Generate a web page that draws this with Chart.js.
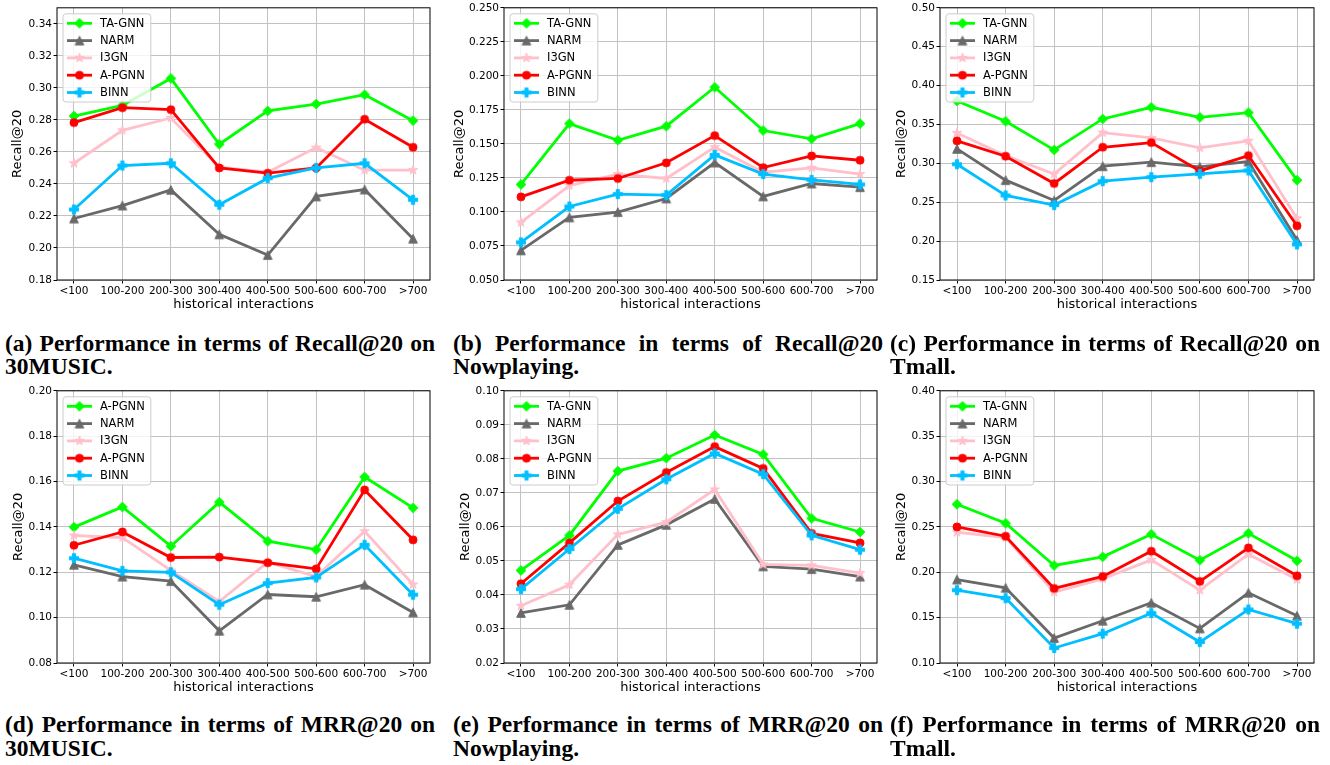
<!DOCTYPE html>
<html><head><meta charset="utf-8">
<script src="https://cdn.jsdelivr.net/npm/chart.js@4/dist/chart.umd.min.js"></script>
<style>
html,body{margin:0;padding:0;background:#fff;}
body{width:1330px;height:765px;position:relative;overflow:hidden;}
canvas.cv{position:absolute;}
.cap{position:absolute;font-family:"Liberation Serif","Times New Roman",serif;font-weight:bold;font-size:23.5px;line-height:24px;color:#000;white-space:nowrap;}
.j{text-align:justify;text-align-last:justify;white-space:normal;}
</style></head><body>
<canvas id="ca" class="cv"></canvas><canvas id="cb" class="cv"></canvas><canvas id="cc" class="cv"></canvas>
<canvas id="cd" class="cv"></canvas><canvas id="ce" class="cv"></canvas><canvas id="cf" class="cv"></canvas>
<div class="cap j" style="left:5px;top:331px;width:430px;">(a) Performance in terms of Recall@20 on</div>
<div class="cap" style="left:5px;top:354px;">30MUSIC.</div>
<div class="cap j" style="left:453px;top:331px;width:430px;">(b) Performance in terms of Recall@20</div>
<div class="cap" style="left:453px;top:354px;">Nowplaying.</div>
<div class="cap j" style="left:890px;top:331px;width:430px;">(c) Performance in terms of Recall@20 on</div>
<div class="cap" style="left:890px;top:354px;">Tmall.</div>
<div class="cap j" style="left:5px;top:712px;width:430px;">(d) Performance in terms of MRR@20 on</div>
<div class="cap" style="left:5px;top:736px;">30MUSIC.</div>
<div class="cap j" style="left:453px;top:712px;width:430px;">(e) Performance in terms of MRR@20 on</div>
<div class="cap" style="left:453px;top:736px;">Nowplaying.</div>
<div class="cap j" style="left:890px;top:712px;width:430px;">(f) Performance in terms of MRR@20 on</div>
<div class="cap" style="left:890px;top:736px;">Tmall.</div>
<script>
// ---------- data ----------
const categories = ['<100','100-200','200-300','300-400','400-500','500-600','600-700','>700'];
const seriesNames = ['TA-GNN','NARM','I3GN','A-PGNN','BINN'];
const seriesNamesD = ['A-PGNN','NARM','I3GN','A-PGNN','BINN'];

// (a) Recall@20, 30MUSIC
const aTA    = [0.2824, 0.2890, 0.3059, 0.2648, 0.2856, 0.2899, 0.2957, 0.2795];
const aNARM  = [0.2184, 0.2265, 0.2363, 0.2085, 0.1956, 0.2322, 0.2365, 0.2058];
const aI3GN  = [0.2529, 0.2735, 0.2812, 0.2505, 0.2473, 0.2627, 0.2486, 0.2486];
const aAPGNN = [0.2783, 0.2876, 0.2864, 0.2500, 0.2467, 0.2500, 0.2804, 0.2629];
const aBINN  = [0.2240, 0.2515, 0.2529, 0.2270, 0.2436, 0.2500, 0.2529, 0.2301];
// (b) Recall@20, Nowplaying
const bTA    = [0.1202, 0.1649, 0.1527, 0.1630, 0.1916, 0.1598, 0.1537, 0.1649];
const bNARM  = [0.0718, 0.0960, 0.0999, 0.1099, 0.1363, 0.1114, 0.1209, 0.1182];
const bI3GN  = [0.0923, 0.1194, 0.1278, 0.1246, 0.1476, 0.1292, 0.1324, 0.1278];
const bAPGNN = [0.1111, 0.1233, 0.1246, 0.1361, 0.1561, 0.1326, 0.1412, 0.1380];
const bBINN  = [0.0776, 0.1040, 0.1131, 0.1124, 0.1419, 0.1278, 0.1236, 0.1202];
// (c) Recall@20, Tmall
const cTA    = [0.3802, 0.3541, 0.3173, 0.3571, 0.3721, 0.3592, 0.3652, 0.2784];
const cNARM  = [0.3186, 0.2784, 0.2523, 0.2963, 0.3015, 0.2955, 0.3023, 0.2013];
const cI3GN  = [0.3391, 0.3100, 0.2861, 0.3395, 0.3327, 0.3199, 0.3289, 0.2292];
const cAPGNN = [0.3289, 0.3092, 0.2741, 0.3207, 0.3267, 0.2903, 0.3100, 0.2197];
const cBINN  = [0.2989, 0.2587, 0.2463, 0.2771, 0.2822, 0.2865, 0.2908, 0.1958];
// (d) MRR@20, 30MUSIC
const dTA    = [0.1399, 0.1488, 0.1315, 0.1509, 0.1337, 0.1300, 0.1620, 0.1484];
const dNARM  = [0.1233, 0.1181, 0.1161, 0.0942, 0.1102, 0.1092, 0.1145, 0.1023];
const dI3GN  = [0.1362, 0.1353, 0.1208, 0.1071, 0.1245, 0.1181, 0.1381, 0.1146];
const dAPGNN = [0.1319, 0.1378, 0.1265, 0.1267, 0.1242, 0.1215, 0.1563, 0.1343];
const dBINN  = [0.1262, 0.1206, 0.1200, 0.1057, 0.1152, 0.1177, 0.1321, 0.1101];
// (e) MRR@20, Nowplaying
const eTA    = [0.0472, 0.0575, 0.0764, 0.0802, 0.0870, 0.0813, 0.0625, 0.0585];
const eNARM  = [0.0347, 0.0371, 0.0547, 0.0606, 0.0682, 0.0484, 0.0476, 0.0454];
const eI3GN  = [0.0368, 0.0430, 0.0578, 0.0614, 0.0710, 0.0490, 0.0487, 0.0464];
const eAPGNN = [0.0433, 0.0553, 0.0676, 0.0760, 0.0836, 0.0772, 0.0581, 0.0553];
const eBINN  = [0.0417, 0.0535, 0.0653, 0.0740, 0.0816, 0.0755, 0.0575, 0.0533];
// (f) MRR@20, Tmall
const fTA    = [0.2749, 0.2540, 0.2075, 0.2170, 0.2419, 0.2133, 0.2430, 0.2126];
const fNARM  = [0.1920, 0.1829, 0.1275, 0.1466, 0.1664, 0.1381, 0.1774, 0.1521];
const fI3GN  = [0.2441, 0.2383, 0.1781, 0.1928, 0.2137, 0.1803, 0.2199, 0.1920];
const fAPGNN = [0.2500, 0.2397, 0.1822, 0.1954, 0.2232, 0.1899, 0.2269, 0.1961];
const fBINN  = [0.1803, 0.1715, 0.1165, 0.1323, 0.1550, 0.1231, 0.1590, 0.1433];

// y tick labels
const yTicksA = ['0.18','0.20','0.22','0.24','0.26','0.28','0.30','0.32','0.34'];
const yTicksB = ['0.050','0.075','0.100','0.125','0.150','0.175','0.200','0.225','0.250'];
const yTicksC = ['0.15','0.20','0.25','0.30','0.35','0.40','0.45','0.50'];
const yTicksD = ['0.08','0.10','0.12','0.14','0.16','0.18','0.20'];
const yTicksE = ['0.02','0.03','0.04','0.05','0.06','0.07','0.08','0.09','0.10'];
const yTicksF = ['0.10','0.15','0.20','0.25','0.30','0.35','0.40'];

const yTitle = 'Recall@20';
const xTitle = 'historical interactions';

// ---------- styles ----------
const colors = ['#00ff00', '#696969', '#ffc0cb', '#ff0000', '#00bfff'];
const shapes = ['D', '^', '*', 'o', 'P'];

function makeMarker(shape, color){
  const s = 16, m = s/2;
  const c = document.createElement('canvas'); c.width = s; c.height = s;
  const g = c.getContext('2d');
  g.fillStyle = color; g.strokeStyle = color; g.lineWidth = 1; g.lineJoin = 'miter';
  g.beginPath();
  if (shape === 'D') {
    const r = 4.8;
    g.moveTo(m, m-r); g.lineTo(m+r, m); g.lineTo(m, m+r); g.lineTo(m-r, m);
  } else if (shape === '^') {
    const r = 4.3;
    g.moveTo(m, m-r); g.lineTo(m+r, m+r); g.lineTo(m-r, m+r);
  } else if (shape === '*') {
    const R = 5.0, ri = R*0.382;
    for (let k=0;k<10;k++){
      const ang = -Math.PI/2 + k*Math.PI/5;
      const rr = (k%2===0) ? R : ri;
      const px = m + rr*Math.cos(ang), py = m + rr*Math.sin(ang);
      if (k===0) g.moveTo(px,py); else g.lineTo(px,py);
    }
  } else if (shape === 'o') {
    g.arc(m, m, 4.0, 0, Math.PI*2);
  } else if (shape === 'P') {
    const a = 4.6, t = 1.6;
    g.moveTo(m-t, m-a); g.lineTo(m+t, m-a); g.lineTo(m+t, m-t); g.lineTo(m+a, m-t);
    g.lineTo(m+a, m+t); g.lineTo(m+t, m+t); g.lineTo(m+t, m+a); g.lineTo(m-t, m+a);
    g.lineTo(m-t, m+t); g.lineTo(m-a, m+t); g.lineTo(m-a, m-t); g.lineTo(m-t, m-t);
  }
  g.closePath(); g.fill(); g.stroke();
  return c;
}
const markers = shapes.map((s,i)=>makeMarker(s, colors[i]));

// ---------- plugins ----------
const frame = {
  id: 'frame',
  afterDatasetsDraw(chart){
    const ca = chart.chartArea, ctx = chart.ctx;
    ctx.save();
    ctx.strokeStyle = '#000'; ctx.lineWidth = 1;
    ctx.strokeRect(ca.left, ca.top, ca.right-ca.left, ca.bottom-ca.top);
    ctx.restore();
  }
};
const mplLegend = {
  id: 'mplLegend',
  afterDraw(chart, args, opts){
    const ctx = chart.ctx, ca = chart.chartArea;
    const names = opts.names || [];
    ctx.save();
    ctx.font = '11.5px "DejaVu Sans"';
    const tw = Math.max(...names.map(n=>ctx.measureText(n).width));
    const x0 = ca.left + 6, y0 = ca.top + 6;
    const rowH = 17.3, pad = 9.5;
    const w = 37 + tw + 6, h = pad*2 + rowH*(names.length-1);
    const r = 3;
    ctx.beginPath();
    ctx.moveTo(x0+r, y0); ctx.lineTo(x0+w-r, y0); ctx.arcTo(x0+w, y0, x0+w, y0+r, r);
    ctx.lineTo(x0+w, y0+h-r); ctx.arcTo(x0+w, y0+h, x0+w-r, y0+h, r);
    ctx.lineTo(x0+r, y0+h); ctx.arcTo(x0, y0+h, x0, y0+h-r, r);
    ctx.lineTo(x0, y0+r); ctx.arcTo(x0, y0, x0+r, y0, r); ctx.closePath();
    ctx.fillStyle = 'rgba(255,255,255,0.8)'; ctx.fill();
    ctx.strokeStyle = '#cccccc'; ctx.lineWidth = 1; ctx.stroke();
    names.forEach((n,i)=>{
      const y = y0 + pad + i*rowH;
      ctx.strokeStyle = colors[i]; ctx.lineWidth = 2.8;
      ctx.beginPath(); ctx.moveTo(x0+4, y); ctx.lineTo(x0+29, y); ctx.stroke();
      const mk = markers[i];
      ctx.drawImage(mk, x0+16.5-mk.width/2, y-mk.height/2);
      ctx.fillStyle = '#000'; ctx.textBaseline = 'middle'; ctx.textAlign = 'left';
      ctx.fillText(n, x0+37, y+0.5);
    });
    ctx.restore();
  }
};

// ---------- panels ----------
const panels = [
  {id:'ca', L:57,  R:430,  T:7.3, B:280, ymin:0.18, ymax:0.35, ticks:yTicksA, names:seriesNames,  data:[aTA,aNARM,aI3GN,aAPGNN,aBINN], off:39},
  {id:'cb', L:504, R:877,  T:7.3, B:280, ymin:0.05, ymax:0.25, ticks:yTicksB, names:seriesNames,  data:[bTA,bNARM,bI3GN,bAPGNN,bBINN], off:44},
  {id:'cc', L:940, R:1314, T:7.3, B:280, ymin:0.15, ymax:0.50, ticks:yTicksC, names:seriesNames,  data:[cTA,cNARM,cI3GN,cAPGNN,cBINN], off:38.3},
  {id:'cd', L:57,  R:430,  T:390, B:663, ymin:0.08, ymax:0.20, ticks:yTicksD, names:seriesNamesD, data:[dTA,dNARM,dI3GN,dAPGNN,dBINN], off:38.7},
  {id:'ce', L:504, R:877,  T:390, B:663, ymin:0.02, ymax:0.10, ticks:yTicksE, names:seriesNames,  data:[eTA,eNARM,eI3GN,eAPGNN,eBINN], off:38},
  {id:'cf', L:940, R:1314, T:390, B:663, ymin:0.10, ymax:0.40, ticks:yTicksF, names:seriesNames,  data:[fTA,fNARM,fI3GN,fAPGNN,fBINN], off:38.3},
];

const AXW = 56, AXH = 36, RPAD = 10;
const tickFont = {family:'DejaVu Sans', size:10.5};
const titleFont = {family:'DejaVu Sans', size:13};

panels.forEach(p=>{
  const cv = document.getElementById(p.id);
  const left = p.L - AXW, top = Math.floor(p.T - 7);
  const width = (p.R + RPAD) - left, height = Math.ceil(p.B + AXH) - top;
  cv.style.left = left + 'px'; cv.style.top = top + 'px';
  cv.width = width; cv.height = height;
  cv.style.width = width + 'px'; cv.style.height = height + 'px';
  const bottomH = height - (p.B - top);
  const datasets = p.data.map((vals,i)=>({
    label: p.names[i],
    data: vals.map((v,k)=>({x:k, y:v})),
    borderColor: colors[i], backgroundColor: colors[i],
    borderWidth: 2.8, tension: 0,
    pointStyle: markers[i], pointRadius: 5, pointHoverRadius: 5,
    order: 5 - i, fill: false
  }));
  new Chart(cv, {
    type: 'line',
    data: {datasets},
    plugins: [frame, mplLegend],
    options: {
      responsive: false, animation: false, devicePixelRatio: 1,
      events: [],
      layout: {padding: {top: p.T - top, right: RPAD, left: 0, bottom: 0}},
      plugins: {legend: {display:false}, tooltip: {enabled:false}, mplLegend: {names: p.names}},
      scales: {
        x: {
          type: 'linear', min: -0.35, max: 7.35,
          afterBuildTicks: s => { s.ticks = categories.map((c,i)=>({value:i})); },
          afterFit: s => { s.height = bottomH; },
          ticks: {callback: v => categories[v], font: tickFont, color:'#000', padding: 1, maxRotation: 0, autoSkip: false},
          grid: {color:'#c2c2c2', lineWidth: 1, tickColor:'#000', tickLength: 3.5, tickWidth: 1},
          border: {display: false},
          title: {display: true, text: xTitle, font: titleFont, color:'#000', padding: {top:0, bottom: bottomH - 24.3 - 7.8}}
        },
        y: {
          type: 'linear', min: p.ymin, max: p.ymax,
          afterBuildTicks: s => { s.ticks = p.ticks.map(t=>({value: parseFloat(t)})); },
          afterFit: s => { s.width = AXW; },
          ticks: {callback: (v,i) => p.ticks[i], font: tickFont, color:'#000', padding: 1.5, autoSkip: false},
          grid: {color:'#c2c2c2', lineWidth: 1, tickColor:'#000', tickLength: 3.5, tickWidth: 1},
          border: {display: false},
          title: {display: true, text: yTitle, font: titleFont, color:'#000', padding: {top: AXW - p.off - 7.8, bottom: 0}}
        }
      }
    }
  });
});
</script>
</body></html>
